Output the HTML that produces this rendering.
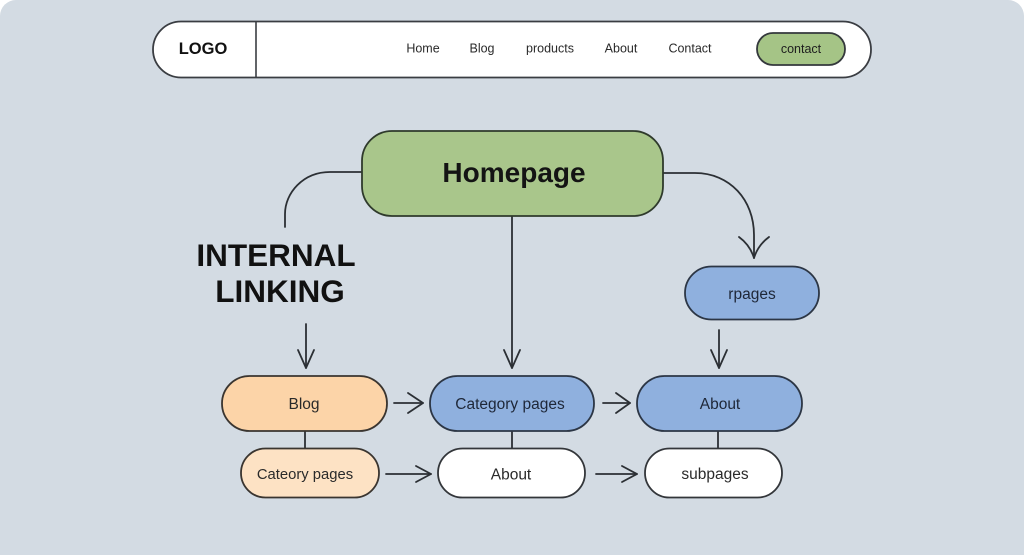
<!DOCTYPE html>
<html>
<head>
<meta charset="utf-8">
<style>
  html,body{margin:0;padding:0;background:#ffffff;}
  body{width:1024px;height:555px;overflow:hidden;position:relative;}
  .bg{position:absolute;left:0;top:0;width:1024px;height:555px;background:#d3dbe3;border-radius:16px 16px 0 0;}
  svg{position:absolute;left:0;top:0;}
  text{font-family:"Liberation Sans",Arial,sans-serif;}
</style>
</head>
<body>
<div class="bg"></div>
<svg width="1024" height="555" viewBox="0 0 1024 555" xmlns="http://www.w3.org/2000/svg">
  <!-- Navbar -->
  <rect x="153" y="21.5" width="718" height="56" rx="28" ry="28" fill="#ffffff" stroke="#3a3d42" stroke-width="1.8"/>
  <line x1="256" y1="22" x2="256" y2="77" stroke="#3a3d42" stroke-width="1.6"/>
  <text x="203" y="54" font-size="16.5" font-weight="bold" fill="#111" text-anchor="middle">LOGO</text>
  <g font-size="12.5" fill="#2a2a2a" text-anchor="middle">
    <text x="423" y="52.5">Home</text>
    <text x="482" y="52.5">Blog</text>
    <text x="550" y="52.5">products</text>
    <text x="621" y="52.5">About</text>
    <text x="690" y="52.5">Contact</text>
  </g>
  <rect x="757" y="33" width="88" height="32" rx="16" ry="16" fill="#a5c486" stroke="#34383c" stroke-width="1.8"/>
  <text x="801" y="53" font-size="12.5" fill="#1e1e1e" text-anchor="middle">contact</text>

  <!-- Connectors -->
  <g fill="none" stroke="#2b2f34" stroke-width="1.8" stroke-linecap="round" stroke-linejoin="round">
    <!-- left curve from homepage -->
    <path d="M362,172 H330 C303,172 285,193 285,214 V227"/>
    <!-- homepage down -->
    <path d="M512,216 V368"/>
    <path d="M504,350 L512,368 L520,350"/>
    <!-- internal linking arrow -->
    <path d="M306,324 V368"/>
    <path d="M298,350 L306,368 L314,350"/>
    <!-- right curve -->
    <path d="M663,173 H695 C730,173 754,200 754,235 V258"/>
    <path d="M739,237 Q750,245 754,258 M769,237 Q758,245 754,258"/>
    <!-- rpages down -->
    <path d="M719,330 V368"/>
    <path d="M711,350 L719,368 L727,350"/>
    <!-- vertical connectors between rows -->
    <path d="M305,431 V449"/>
    <path d="M512,431 V449"/>
    <path d="M718,431 V449"/>
    <!-- row 1 arrows -->
    <path d="M394,403 H423"/>
    <path d="M408,393 L423,403 L408,413"/>
    <path d="M603,403 H630"/>
    <path d="M616,393 L630,403 L616,413"/>
    <!-- row 2 arrows -->
    <path d="M386,474 H431"/>
    <path d="M416,466 L431,474 L416,482"/>
    <path d="M596,474 H637"/>
    <path d="M622,466 L637,474 L622,482"/>
  </g>

  <!-- Homepage -->
  <rect x="362" y="131" width="301" height="85" rx="30" ry="30" fill="#a9c68b" stroke="#2f3a2c" stroke-width="1.8"/>
  <text x="514" y="182" font-size="28" font-weight="bold" fill="#141414" text-anchor="middle">Homepage</text>

  <!-- Internal linking -->
  <text x="276" y="266" font-size="31.5" font-weight="bold" fill="#111" text-anchor="middle">INTERNAL</text>
  <text x="280" y="302" font-size="31.5" font-weight="bold" fill="#111" text-anchor="middle">LINKING</text>

  <!-- rpages -->
  <rect x="685" y="266.5" width="134" height="53" rx="26.5" ry="26.5" fill="#8fb0de" stroke="#2c3645" stroke-width="1.8"/>
  <text x="752" y="299" font-size="15.5" fill="#1e2738" text-anchor="middle">rpages</text>

  <!-- Row 1 -->
  <rect x="222" y="376" width="165" height="55" rx="27.5" ry="27.5" fill="#fcd4a8" stroke="#3a3530" stroke-width="1.8"/>
  <text x="304" y="409" font-size="15.5" fill="#2a2a2a" text-anchor="middle">Blog</text>

  <rect x="430" y="376" width="164" height="55" rx="27.5" ry="27.5" fill="#8fb0de" stroke="#2c3645" stroke-width="1.8"/>
  <text x="510" y="409" font-size="15.5" fill="#1e2738" text-anchor="middle">Category pages</text>

  <rect x="637" y="376" width="165" height="55" rx="27.5" ry="27.5" fill="#8fb0de" stroke="#2c3645" stroke-width="1.8"/>
  <text x="720" y="409" font-size="15.5" fill="#1e2738" text-anchor="middle">About</text>

  <!-- Row 2 -->
  <rect x="241" y="448.5" width="138" height="49" rx="24.5" ry="24.5" fill="#fde2c4" stroke="#3a3530" stroke-width="1.8"/>
  <text x="305" y="479" font-size="14.8" fill="#2a2a2a" text-anchor="middle">Cateory pages</text>

  <rect x="438" y="448.5" width="147" height="49" rx="24.5" ry="24.5" fill="#ffffff" stroke="#33363a" stroke-width="1.8"/>
  <text x="511" y="479.5" font-size="15.5" fill="#2a2a2a" text-anchor="middle">About</text>

  <rect x="645" y="448.5" width="137" height="49" rx="24.5" ry="24.5" fill="#ffffff" stroke="#33363a" stroke-width="1.8"/>
  <text x="715" y="479" font-size="15.5" fill="#2a2a2a" text-anchor="middle">subpages</text>
</svg>
</body>
</html>
